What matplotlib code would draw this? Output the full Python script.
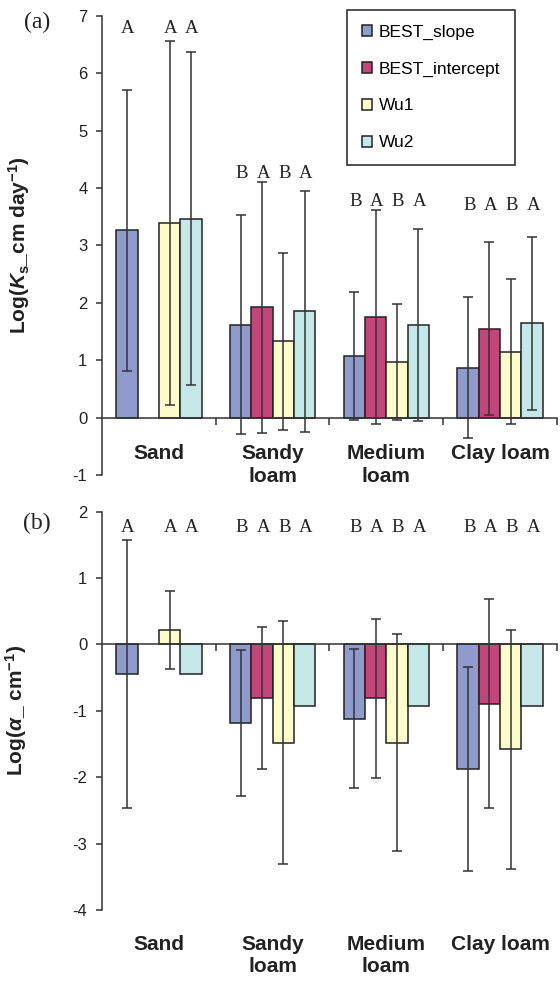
import numpy as np
import matplotlib
matplotlib.use('Agg')
import matplotlib.pyplot as plt

plt.rcParams['font.family'] = ['Liberation Sans', 'DejaVu Sans']
plt.rcParams['axes.unicode_minus'] = False
plt.rcParams['mathtext.fontset'] = 'custom'
plt.rcParams['mathtext.rm'] = 'Liberation Sans:bold'
plt.rcParams['mathtext.it'] = 'Liberation Sans:italic:bold'
plt.rcParams['mathtext.bf'] = 'Liberation Sans:bold'

categories = ['Sand', 'Sandy\nloam', 'Medium\nloam', 'Clay loam']
methods = ['BEST_slope', 'BEST_intercept', 'Wu1', 'Wu2']
colors = ['#8f9bcd', '#c4457a', '#fffccb', '#c5e7e8']
nan = np.nan

# (a) log Ks, means and sd
ks_slope = [3.26, 1.62, 1.07, 0.87]
ks_intercept = [nan, 1.92, 1.75, 1.55]
ks_wu1 = [3.39, 1.33, 0.96, 1.15]
ks_wu2 = [3.46, 1.85, 1.61, 1.64]
ks_sd_slope = [2.45, 1.91, 1.12, 1.23]
ks_sd_intercept = [nan, 2.18, 1.87, 1.50]
ks_sd_wu1 = [3.17, 1.54, 1.01, 1.27]
ks_sd_wu2 = [2.90, 2.10, 1.67, 1.51]

# (b) log alpha
al_slope = [-0.44, -1.18, -1.12, -1.88]
al_intercept = [nan, -0.81, -0.81, -0.89]
al_wu1 = [0.22, -1.48, -1.48, -1.58]
al_wu2 = [-0.44, -0.92, -0.92, -0.92]
al_sd_slope = [2.02, 1.10, 1.05, 1.54]
al_sd_intercept = [nan, 1.07, 1.20, 1.57]
al_sd_wu1 = [0.59, 1.83, 1.63, 1.80]
al_sd_wu2 = [nan, nan, nan, nan]

ks_letters = [['A', '', 'A', 'A'], ['B', 'A', 'B', 'A'], ['B', 'A', 'B', 'A'], ['B', 'A', 'B', 'A']]
ks_letter_y = [6.78, 4.26, 3.77, 3.70]
al_letters = [['A', '', 'A', 'A'], ['B', 'A', 'B', 'A'], ['B', 'A', 'B', 'A'], ['B', 'A', 'B', 'A']]
al_letter_y = [1.76, 1.76, 1.76, 1.76]

fig = plt.figure(figsize=(5.6, 9.81), dpi=100)
ax1 = fig.add_axes([0.1821, 0.5158, 0.8125, 0.4682])
ax2 = fig.add_axes([0.1821, 0.0724, 0.8125, 0.4060])

x = np.arange(len(categories))
w = 0.75 / 4
offs = (np.arange(4) - 1.5) * w


def panel(ax, means, sds, letters, letter_y, ylim, label_y):
    for i in range(4):
        m = np.array(means[i], dtype=float)
        s = np.array(sds[i], dtype=float)
        xi = x + offs[i]
        ok = ~np.isnan(m)
        ax.bar(xi[ok], m[ok], w, color=colors[i], edgecolor='#222222',
               linewidth=1.1, label=methods[i], zorder=2)
        ok2 = ok & ~np.isnan(s)
        if ok2.any():
            ax.errorbar(xi[ok2], m[ok2], yerr=s[ok2], fmt='none', ecolor='#333333',
                        elinewidth=1.1, capsize=3.5, capthick=1.1, zorder=3)
    for g in range(len(categories)):
        for i in range(4):
            if letters[g][i]:
                ax.text(x[g] + offs[i] + 0.01, letter_y[g], letters[g][i], ha='center',
                        va='center', family='Liberation Serif', fontsize=13.5,
                        color='#222222')
        ax.text(x[g], label_y, categories[g], transform=ax.get_xaxis_transform(),
                ha='center', va='top', fontsize=15, fontweight='bold',
                color='#222222', linespacing=1.25)
    ax.set_xlim(-0.5, 3.5)
    ax.set_ylim(*ylim)
    ax.set_yticks(np.arange(ylim[0], ylim[1] + 1))
    ax.spines['top'].set_visible(False)
    ax.spines['right'].set_visible(False)
    ax.spines['bottom'].set_position(('data', 0))
    for sp in ['left', 'bottom']:
        ax.spines[sp].set_linewidth(1.1)
        ax.spines[sp].set_color('#333333')
    ax.set_xticks([0.5, 1.5, 2.5, 3.5])
    ax.set_xticklabels([])
    ax.tick_params(axis='x', direction='out', length=5, width=1.1, color='#333333')
    ax.tick_params(axis='y', direction='out', length=4.5, width=1.1, color='#333333',
                   labelsize=12, pad=6, labelcolor='#222222')


panel(ax1, [ks_slope, ks_intercept, ks_wu1, ks_wu2],
      [ks_sd_slope, ks_sd_intercept, ks_sd_wu1, ks_sd_wu2],
      ks_letters, ks_letter_y, (-1, 7), 0.068)
panel(ax2, [al_slope, al_intercept, al_wu1, al_wu2],
      [al_sd_slope, al_sd_intercept, al_sd_wu1, al_sd_wu2],
      al_letters, al_letter_y, (-4, 2), -0.062)

ax1.set_ylabel(r'Log($K_{\mathrm{s}}$_cm day$^{\mathrm{-1}}$)', fontsize=15,
               fontweight='bold', color='#222222')
ax1.yaxis.set_label_coords(-0.154, 0.5)
ax2.set_ylabel(r'Log($\alpha$_ cm$^{\mathrm{-1}}$)', fontsize=15,
               fontweight='bold', color='#222222')
ax2.yaxis.set_label_coords(-0.160, 0.5)

fig.text(37 / 560, 1 - 22 / 981, '(a)', family='Liberation Serif', fontsize=17,
         ha='center', va='center', color='#222222')
fig.text(37 / 560, 1 - 523 / 981, '(b)', family='Liberation Serif', fontsize=17,
         ha='center', va='center', color='#222222')

leg = ax1.legend(loc='upper left', bbox_to_anchor=(347 / 560, 1 - 10 / 981),
                 bbox_transform=fig.transFigure, borderaxespad=0, fontsize=12.5,
                 handlelength=0.6, handleheight=0.6, handletextpad=0.4,
                 labelspacing=1.25, borderpad=0.85, fancybox=False, framealpha=1)
leg.get_frame().set_edgecolor('#222222')
leg.get_frame().set_linewidth(1.1)

fig.savefig('out.png', dpi=100)
